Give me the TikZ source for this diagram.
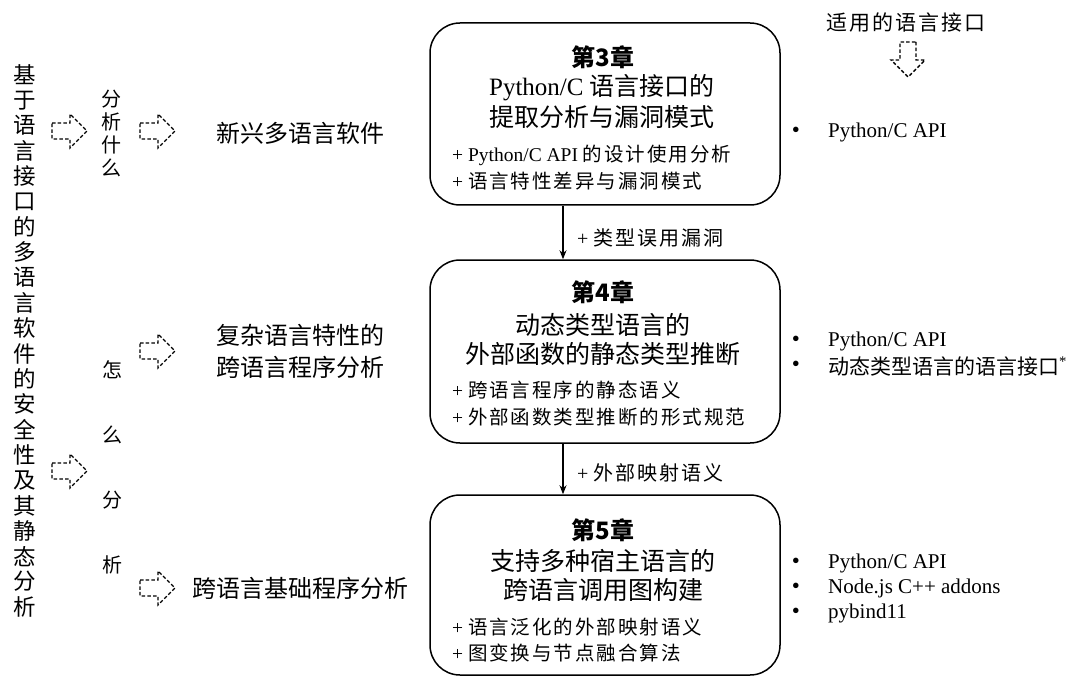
\documentclass[tikz,border=0pt]{standalone}
\usepackage{fontspec}
\setmainfont{Liberation Serif}
\newfontfamily\cjk{Noto Sans CJK SC}
\newfontfamily\cjks{Noto Sans CJK SC}[LetterSpace=10]
\usetikzlibrary{arrows.meta}

\tikzset{
  chbox/.style={draw, line width=1.5pt, rounded corners=30pt, minimum width=350pt, inner sep=0pt},
  ttl/.style={inner sep=0pt, font=\fontsize{24}{28}\selectfont\cjk\bfseries},
  hd/.style={inner sep=0pt, font=\fontsize{25}{30}\selectfont},
  sub/.style={inner sep=0pt, anchor=west, font=\fontsize{19.5}{23}\selectfont},
  mid/.style={inner sep=0pt, font=\fontsize{24}{28}\selectfont\cjk},
  vch/.style={inner sep=0pt, font=\fontsize{22.5}{26}\selectfont\cjk},
  qch/.style={inner sep=0pt, font=\fontsize{20}{24}\selectfont\cjk},
  lbl/.style={inner sep=0pt, anchor=west, font=\fontsize{20}{24}\selectfont},
  itm/.style={inner sep=0pt, anchor=west, font=\fontsize{21}{25}\selectfont},
  bul/.style={inner sep=0pt, font=\fontsize{23}{25}\selectfont},
  conn/.style={line width=1.3pt, -{Stealth[length=9pt,width=7pt]}},
  pics/darrow/.style={code={
    \draw[line width=1.4pt, dash pattern=on 3.5pt off 2.2pt, line join=miter]
      (0,-8) -- (18,-8) -- (18,-17) -- (35,0) -- (18,17) -- (18,8) -- (0,8) -- cycle;
  }}
}

\begin{document}
\begin{tikzpicture}[x=1pt, y=-1pt]
\fill[white] (0,0) rectangle (1075,676);
\useasboundingbox (0,0) rectangle (1075,676);

% title column on the far left, one character per line
\foreach \ch [count=\i from 0] in {基,于,语,言,接,口,的,多,语,言,软,件,的,安,全,性,及,其,静,态,分,析}
  \node[vch] (side\i) at (25, {75+25.33*\i}) {\ch};

% "what to analyse" / "how to analyse"
\foreach \ch [count=\i from 0] in {分,析,什,么}
  \node[qch] (what\i) at (111, {99+23*\i}) {\ch};
\node[qch] (how0) at (112,370) {怎};
\node[qch] (how1) at (112,435) {么};
\node[qch] (how2) at (112,500) {分};
\node[qch] (how3) at (112,565) {析};

% dashed block arrows
\pic at (52,131) {darrow};
\pic at (52,471) {darrow};
\pic at (140,131) {darrow};
\pic at (140,351) {darrow};
\pic at (140,588) {darrow};
\pic[rotate=-90] at (908,42) {darrow};

% research topics
\node[mid] (t1) at (300,133) {新兴多语言软件};
\node[mid] (t2a) at (300,335) {复杂语言特性的};
\node[mid] (t2b) at (300,367) {跨语言程序分析};
\node[mid] (t3) at (300,588) {跨语言基础程序分析};

% chapter boxes
\node[chbox, minimum height=182pt] (b1) at (605,114) {};
\node[chbox, minimum height=183pt] (b2) at (605,351.5) {};
\node[chbox, minimum height=180pt] (b3) at (605,585) {};

% chapter 3
\node[ttl] (c3) at (603,57) {第3章};
\node[hd] (c3a) at (602,88) {Python/C {\cjk 语言接口的}};
\node[hd, font=\fontsize{25}{30}\selectfont\cjk] (c3b) at (602,117) {提取分析与漏洞模式};
\node[sub] (c3s1) at (452,155) {+ Python/C API {\cjks 的设计使用分析}};
\node[sub] (c3s2) at (452,181) {+ {\cjks 语言特性差异与漏洞模式}};

% chapter 4
\node[ttl] (c4) at (603,292) {第4章};
\node[hd, font=\fontsize{25}{30}\selectfont\cjk] (c4a) at (603,325) {动态类型语言的};
\node[hd, font=\fontsize{25}{30}\selectfont\cjk] (c4b) at (603,354) {外部函数的静态类型推断};
\node[sub] (c4s1) at (452,390) {+ {\cjks 跨语言程序的静态语义}};
\node[sub] (c4s2) at (452,417) {+ {\cjks 外部函数类型推断的形式规范}};

% chapter 5
\node[ttl] (c5) at (603,530) {第5章};
\node[hd, font=\fontsize{25}{30}\selectfont\cjk] (c5a) at (603,561) {支持多种宿主语言的};
\node[hd, font=\fontsize{25}{30}\selectfont\cjk] (c5b) at (603,590) {跨语言调用图构建};
\node[sub] (c5s1) at (452,627) {+ {\cjks 语言泛化的外部映射语义}};
\node[sub] (c5s2) at (452,653) {+ {\cjks 图变换与节点融合算法}};

% links between chapters
\draw[conn] ([xshift=-42pt]b1.south) -- ([xshift=-42pt]b2.north);
\draw[conn] ([xshift=-42pt]b2.south) -- ([xshift=-42pt]b3.north);
\node[lbl] (e1) at (577,238) {+ {\cjks 类型误用漏洞}};
\node[lbl] (e2) at (577,473) {+ {\cjks 外部映射语义}};

% applicable language interfaces
\node[inner sep=0pt, font=\fontsize{21}{25}\selectfont\cjks] (apl) at (906,23) {适用的语言接口};
\node[bul] (d1) at (796,132) {•};
\node[itm] (i1) at (828,132) {Python/C API};
\node[bul] (d2) at (796,341) {•};
\node[itm] (i2) at (828,341) {Python/C API};
\node[bul] (d3) at (796,366) {•};
\node[itm] (i3) at (828,366) {{\cjk 动态类型语言的语言接口}\textsuperscript{*}};
\node[bul] (d4) at (796,563) {•};
\node[itm] (i4) at (828,563) {Python/C API};
\node[bul] (d5) at (796,588) {•};
\node[itm] (i5) at (828,588) {Node.js C++ addons};
\node[bul] (d6) at (796,613) {•};
\node[itm] (i6) at (828,613) {pybind11};
\end{tikzpicture}
\end{document}
